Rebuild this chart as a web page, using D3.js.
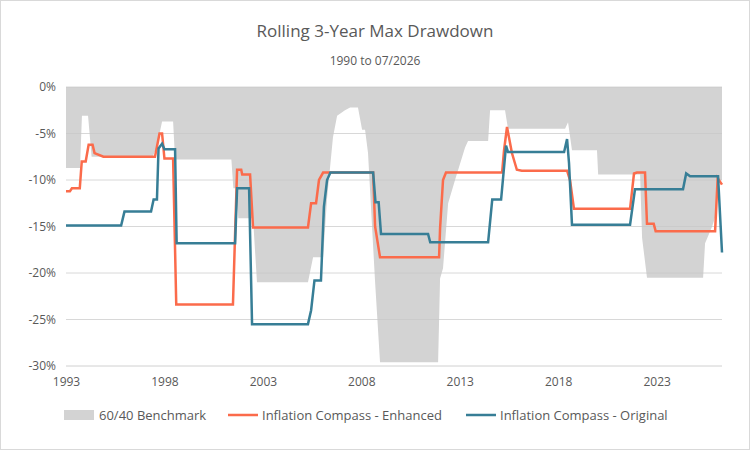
<!DOCTYPE html>
<html><head><meta charset="utf-8">
<script src="https://cdn.jsdelivr.net/npm/d3@7"></script>
<style>body{margin:0;background:#fff}svg{display:block;font-family:"Open Sans",sans-serif}</style>
</head><body><div id="chart"></div>
<script>
/* values: [year, drawdown %] */
var benchmark = [[1993,-8.7],[1993.71,-8.7],[1993.81,-3.1],[1994.12,-3.1],[1994.3,-7.5],[1997.4,-7.5],[1997.6,-6.5],[1997.88,-3.7],[1998.44,-3.7],[1998.54,-7.8],[2001.4,-7.8],[2001.5,-10.9],[2001.69,-10.9],[2001.75,-14.1],[2002.5,-14.1],[2002.7,-21],[2005.29,-21],[2005.55,-18.3],[2006.06,-18.3],[2006.26,-12],[2006.56,-5.4],[2006.77,-3.1],[2007.17,-2.5],[2007.43,-2.2],[2007.83,-2.2],[2008.04,-4.6],[2008.19,-4.6],[2008.34,-7.1],[2008.7,-21],[2008.95,-29.6],[2011.9,-29.6],[2012.0,-20.6],[2012.15,-19.5],[2012.41,-12.5],[2012.76,-10],[2013.27,-6.5],[2013.42,-5.8],[2014.44,-5.8],[2014.54,-2.5],[2015.3,-2.5],[2015.45,-4.5],[2018.35,-4.5],[2018.5,-3.8],[2018.7,-6.8],[2019.97,-6.8],[2020.03,-9.4],[2022.16,-9.4],[2022.26,-16.2],[2022.51,-20.5],[2025.36,-20.5],[2025.46,-16.8],[2025.82,-15],[2025.97,-14],[2026.12,-10],[2026.32,-10]];
var enhanced = [[1993,-11.2],[1993.2,-11.2],[1993.3,-10.9],[1993.7,-10.9],[1993.8,-8.0],[1994.0,-8.0],[1994.15,-6.2],[1994.35,-6.2],[1994.45,-7.1],[1994.9,-7.5],[1997.52,-7.5],[1997.75,-5.0],[1997.88,-5.0],[1998.0,-7.7],[1998.44,-7.7],[1998.6,-23.4],[2001.48,-23.4],[2001.6,-15],[2001.69,-8.9],[2001.9,-8.9],[2001.95,-9.4],[2002.35,-9.4],[2002.5,-15.1],[2005.29,-15.1],[2005.45,-12.5],[2005.7,-12.5],[2005.85,-10],[2006.06,-9.2],[2008.6,-9.2],[2008.7,-15],[2008.95,-18.3],[2011.95,-18.3],[2012.0,-15.2],[2012.15,-10],[2012.3,-9.2],[2015.15,-9.2],[2015.25,-6.8],[2015.4,-4.3],[2015.65,-7.1],[2015.9,-8.9],[2016.15,-9.0],[2018.45,-9.0],[2018.6,-10],[2018.8,-13.1],[2021.65,-13.1],[2021.85,-9.3],[2022.0,-9.2],[2022.41,-9.2],[2022.51,-14.7],[2022.85,-14.7],[2022.95,-15.5],[2025.97,-15.5],[2026.1,-9.8],[2026.32,-10.5]];
var original = [[1993,-14.9],[1995.8,-14.9],[1995.97,-13.4],[1997.32,-13.4],[1997.45,-12.1],[1997.62,-12.1],[1997.7,-6.6],[1997.88,-6.1],[1998.0,-6.7],[1998.54,-6.7],[1998.62,-16.8],[2001.59,-16.8],[2001.69,-10.9],[2002.3,-10.9],[2002.45,-25.5],[2005.29,-25.5],[2005.45,-24],[2005.62,-20.8],[2005.95,-20.8],[2006.1,-12.9],[2006.26,-10],[2006.43,-9.2],[2008.6,-9.2],[2008.72,-12.4],[2008.88,-12.4],[2009.0,-15.8],[2011.39,-15.8],[2011.5,-16.7],[2014.44,-16.7],[2014.65,-12.1],[2015.1,-12.1],[2015.35,-6.3],[2015.45,-7.0],[2018.3,-7.0],[2018.45,-5.6],[2018.55,-8.2],[2018.7,-14.8],[2021.65,-14.8],[2021.9,-11.0],[2024.34,-11.0],[2024.5,-9.3],[2024.7,-9.6],[2026.12,-9.6],[2026.32,-17.8]];
var xTicks = [1993, 1998, 2003, 2008, 2013, 2018, 2023];
var yTicks = [0, -5, -10, -15, -20, -25, -30];
var legendItems = ["60/40 Benchmark", "Inflation Compass - Enhanced", "Inflation Compass - Original"];

var W = 750, H = 450;
var svg = d3.select('#chart').append('svg').attr('width', W).attr('height', H);
svg.append('rect').attr('x', 0.5).attr('y', 0.5).attr('width', W - 1).attr('height', H - 1)
  .attr('fill', '#fff').attr('stroke', '#d9d9d9');

var x = d3.scaleLinear().domain([1993, 2026.32]).range([66, 722]);
var y = d3.scaleLinear().domain([-30, 0]).range([366, 87]);

svg.append('text').attr('x', W / 2).attr('y', 37).attr('text-anchor', 'middle')
  .attr('font-size', 17).attr('fill', '#595959').text('Rolling 3-Year Max Drawdown');
svg.append('text').attr('x', W / 2).attr('y', 65).attr('text-anchor', 'middle')
  .attr('font-size', 12).attr('fill', '#595959').text('1990 to 07/2026');

/* gray benchmark area */
svg.append('path').datum(benchmark)
  .attr('d', d3.area().x(function (d) { return x(d[0]); }).y0(y(0)).y1(function (d) { return y(d[1]); }))
  .attr('fill', '#d3d3d3');

/* gridlines */
svg.append('g').selectAll('line').data(yTicks).join('line')
  .attr('x1', 66).attr('x2', 722).attr('y1', function (d) { return y(d); }).attr('y2', function (d) { return y(d); })
  .attr('stroke', function (d) { return d === -30 ? '#d0d0d0' : 'rgba(200,200,200,0.7)'; });

var yAx = svg.append('g').attr('transform', 'translate(66,0)')
  .call(d3.axisLeft(y).tickValues(yTicks).tickSize(0).tickPadding(10).tickFormat(function (d) { return d + '%'; }));
yAx.select('.domain').remove();
yAx.selectAll('text').attr('font-size', 12).attr('fill', '#595959').attr('font-family', '"Open Sans",sans-serif');

var xAx = svg.append('g').attr('transform', 'translate(0,366)')
  .call(d3.axisBottom(x).tickValues(xTicks).tickSize(0).tickPadding(11).tickFormat(d3.format('d')));
xAx.select('.domain').remove();
xAx.selectAll('text').attr('font-size', 12).attr('fill', '#595959').attr('font-family', '"Open Sans",sans-serif');

var line = d3.line().x(function (d) { return x(d[0]); }).y(function (d) { return y(d[1]); });
svg.append('path').datum(enhanced).attr('d', line).attr('fill', 'none').attr('stroke', '#fb6b4b').attr('stroke-width', 2.5);
svg.append('path').datum(original).attr('d', line).attr('fill', 'none').attr('stroke', '#377e96').attr('stroke-width', 2.5);

/* legend */
var lg = svg.append('g').attr('font-size', 13).attr('fill', '#595959');
lg.append('rect').attr('x', 64).attr('y', 410).attr('width', 30).attr('height', 10).attr('fill', '#d3d3d3');
lg.append('text').attr('x', 99).attr('y', 420).text(legendItems[0]);
lg.append('line').attr('x1', 228).attr('x2', 258).attr('y1', 415).attr('y2', 415).attr('stroke', '#fb6b4b').attr('stroke-width', 2.5);
lg.append('text').attr('x', 262).attr('y', 420).text(legendItems[1]);
lg.append('line').attr('x1', 466).attr('x2', 496).attr('y1', 415).attr('y2', 415).attr('stroke', '#377e96').attr('stroke-width', 2.5);
lg.append('text').attr('x', 500).attr('y', 420).text(legendItems[2]);
</script></body></html>
